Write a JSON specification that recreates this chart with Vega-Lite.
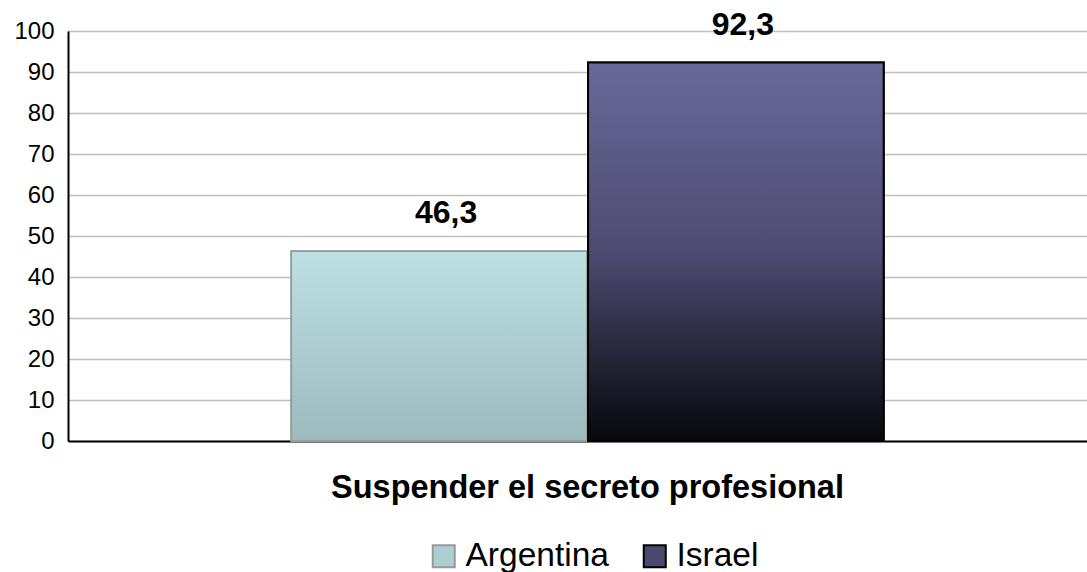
{
  "$schema": "https://vega.github.io/schema/vega-lite/v6.json",
  "width": 1039,
  "height": 410,
  "autosize": "none",
  "padding": {"left": 68, "top": 31, "right": 0, "bottom": 131},
  "background": "white",
  "config": {
    "view": {"stroke": null},
    "font": "Liberation Sans",
    "locale": {"number": {"decimal": ",", "thousands": ".", "grouping": [3], "currency": ["", ""]}}
  },
  "data": {
    "values": [
      {"cat": "Suspender el secreto profesional", "country": "Argentina", "value": 46.3},
      {"cat": "Suspender el secreto profesional", "country": "Israel", "value": 92.3}
    ]
  },
  "encoding": {
    "x": {
      "field": "cat", "type": "nominal",
      "scale": {"paddingOuter": 0.377, "paddingInner": 0},
      "axis": {
        "title": null, "ticks": false, "domainColor": "black", "domainWidth": 2,
        "labelFontSize": 32.5, "labelFontWeight": "bold", "labelColor": "black",
        "labelPadding": 30, "labelAngle": 0, "grid": false, "labelLimit": 0, "labelDx": -8
      }
    },
    "xOffset": {"field": "country", "type": "nominal", "scale": {"paddingInner": 0.004}},
    "y": {
      "field": "value", "type": "quantitative",
      "scale": {"domain": [0, 100], "nice": false},
      "axis": {
        "title": null, "values": [0, 10, 20, 30, 40, 50, 60, 70, 80, 90, 100],
        "ticks": false, "domainColor": "black", "domainWidth": 2,
        "gridColor": "#c0c0c0", "gridWidth": 1.5,
        "labelFontSize": 24, "labelColor": "black", "labelPadding": 14
      }
    }
  },
  "layer": [
    {
      "mark": {"type": "bar", "strokeWidth": 2},
      "encoding": {
        "color": {
          "field": "country", "type": "nominal",
          "scale": {"domain": ["Argentina", "Israel"], "range": ["#aecfd2", "#4a4a70"]},
          "legend": {
            "title": null, "orient": "none", "direction": "horizontal",
            "legendX": 359, "legendY": 508,
            "symbolType": "square", "symbolSize": 484, "symbolStrokeWidth": 2,
            "labelFontSize": 33.5, "labelColor": "black", "labelOffset": 5, "labelLimit": 0,
            "columnPadding": 29, "symbolOpacity": 1
          }
        },
        "stroke": {
          "field": "country", "type": "nominal",
          "scale": {"domain": ["Argentina", "Israel"], "range": ["#999999", "#000000"]},
          "legend": {
            "title": null, "orient": "none", "direction": "horizontal",
            "legendX": 359, "legendY": 508,
            "symbolType": "square", "symbolSize": 484, "symbolStrokeWidth": 2,
            "labelFontSize": 33.5, "labelColor": "black", "labelOffset": 5, "labelLimit": 0,
            "columnPadding": 29, "symbolOpacity": 1
          }
        }
      }
    },
    {
      "transform": [{"filter": "datum.country === 'Argentina'"}],
      "mark": {
        "type": "bar", "stroke": "#999999", "strokeWidth": 1.5,
        "fill": {
          "gradient": "linear", "x1": 0, "y1": 0, "x2": 0, "y2": 1,
          "stops": [{"offset": 0, "color": "#bde0e3"}, {"offset": 1, "color": "#9dbabd"}]
        }
      }
    },
    {
      "transform": [{"filter": "datum.country === 'Israel'"}],
      "mark": {
        "type": "bar", "stroke": "#000000", "strokeWidth": 2,
        "fill": {
          "gradient": "linear", "x1": 0, "y1": 0, "x2": 0, "y2": 1,
          "stops": [
            {"offset": 0, "color": "#696999"},
            {"offset": 0.5, "color": "#4d4b72"},
            {"offset": 0.8, "color": "#222233"},
            {"offset": 1, "color": "#07070c"}
          ]
        }
      }
    },
    {
      "mark": {
        "type": "text", "fontSize": 32, "fontWeight": "bold", "color": "black",
        "baseline": "alphabetic", "align": "center", "dy": -28, "dx": 7
      },
      "encoding": {
        "text": {"field": "value", "type": "quantitative", "format": ".1f"}
      }
    }
  ]
}
